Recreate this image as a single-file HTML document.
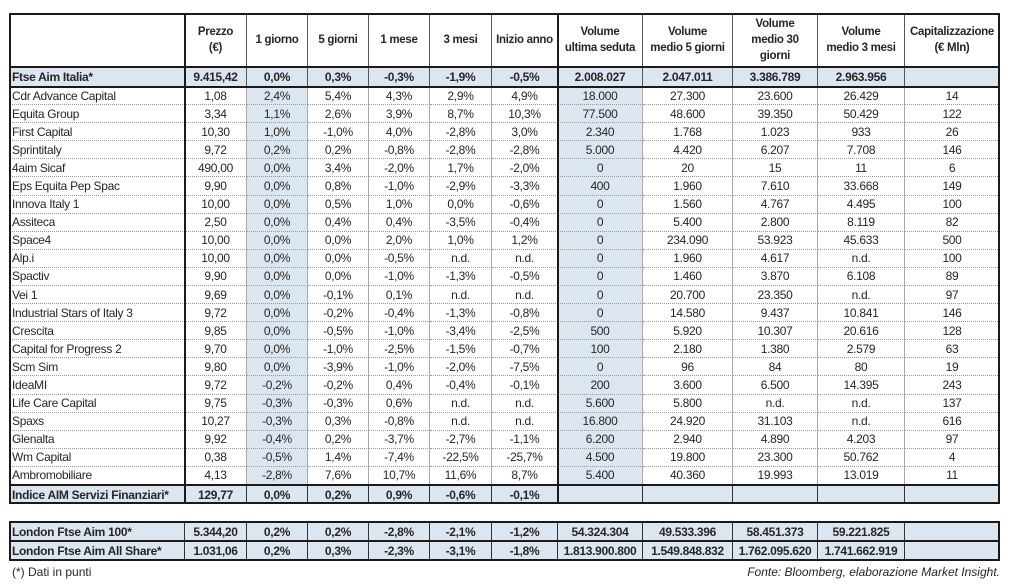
<!DOCTYPE html>
<html><head><meta charset="utf-8">
<style>
body{margin:0;width:1024px;height:587px;background:#fff;position:relative;overflow:hidden;font-family:"Liberation Sans",Arial,sans-serif;color:#262626}
.c{position:absolute;box-sizing:border-box;display:flex;align-items:center;justify-content:center;text-align:center;font-size:12px;white-space:nowrap;overflow:hidden;letter-spacing:-0.3px}
.n{justify-content:flex-start;padding-left:3px}
.h{font-weight:bold;font-size:11.5px;line-height:16px;white-space:normal}
.b{font-weight:bold}
.s{background:#dce6f1}
.frame{position:absolute;box-sizing:border-box;border:2px solid #1a1a1a;pointer-events:none}
.line{position:absolute;background:#1a1a1a}
.foot{position:absolute;font-size:12px;top:565px}
</style></head><body>
<div id="root"></div>
<div class="foot" style="left:12px">(*) Dati in punti</div>
<div class="foot" style="right:24px;font-style:italic">Fonte: Bloomberg, elaborazione Market Insight.</div>
<script>
const xs=[9,185,247,308,369,430,492,558,643,733,818,905,1000];
const headers=["","Prezzo<br>(€)","1 giorno","5 giorni","1 mese","3 mesi","Inizio anno","Volume<br>ultima seduta","Volume<br>medio 5 giorni","Volume<br>medio 30<br>giorni","Volume<br>medio 3 mesi","Capitalizzazione<br>(€ Mln)"];
const ftse=["Ftse Aim Italia*","9.415,42","0,0%","0,3%","-0,3%","-1,9%","-0,5%","2.008.027","2.047.011","3.386.789","2.963.956",""];
const rows=[
["Cdr Advance Capital","1,08","2,4%","5,4%","4,3%","2,9%","4,9%","18.000","27.300","23.600","26.429","14"],
["Equita Group","3,34","1,1%","2,6%","3,9%","8,7%","10,3%","77.500","48.600","39.350","50.429","122"],
["First Capital","10,30","1,0%","-1,0%","4,0%","-2,8%","3,0%","2.340","1.768","1.023","933","26"],
["Sprintitaly","9,72","0,2%","0,2%","-0,8%","-2,8%","-2,8%","5.000","4.420","6.207","7.708","146"],
["4aim Sicaf","490,00","0,0%","3,4%","-2,0%","1,7%","-2,0%","0","20","15","11","6"],
["Eps Equita Pep Spac","9,90","0,0%","0,8%","-1,0%","-2,9%","-3,3%","400","1.960","7.610","33.668","149"],
["Innova Italy 1","10,00","0,0%","0,5%","1,0%","0,0%","-0,6%","0","1.560","4.767","4.495","100"],
["Assiteca","2,50","0,0%","0,4%","0,4%","-3,5%","-0,4%","0","5.400","2.800","8.119","82"],
["Space4","10,00","0,0%","0,0%","2,0%","1,0%","1,2%","0","234.090","53.923","45.633","500"],
["Alp.i","10,00","0,0%","0,0%","-0,5%","n.d.","n.d.","0","1.960","4.617","n.d.","100"],
["Spactiv","9,90","0,0%","0,0%","-1,0%","-1,3%","-0,5%","0","1.460","3.870","6.108","89"],
["Vei 1","9,69","0,0%","-0,1%","0,1%","n.d.","n.d.","0","20.700","23.350","n.d.","97"],
["Industrial Stars of Italy 3","9,72","0,0%","-0,2%","-0,4%","-1,3%","-0,8%","0","14.580","9.437","10.841","146"],
["Crescita","9,85","0,0%","-0,5%","-1,0%","-3,4%","-2,5%","500","5.920","10.307","20.616","128"],
["Capital for Progress 2","9,70","0,0%","-1,0%","-2,5%","-1,5%","-0,7%","100","2.180","1.380","2.579","63"],
["Scm Sim","9,80","0,0%","-3,9%","-1,0%","-2,0%","-7,5%","0","96","84","80","19"],
["IdeaMI","9,72","-0,2%","-0,2%","0,4%","-0,4%","-0,1%","200","3.600","6.500","14.395","243"],
["Life Care Capital","9,75","-0,3%","-0,3%","0,6%","n.d.","n.d.","5.600","5.800","n.d.","n.d.","137"],
["Spaxs","10,27","-0,3%","0,3%","-0,8%","n.d.","n.d.","16.800","24.920","31.103","n.d.","616"],
["Glenalta","9,92","-0,4%","0,2%","-3,7%","-2,7%","-1,1%","6.200","2.940","4.890","4.203","97"],
["Wm Capital","0,38","-0,5%","1,4%","-7,4%","-22,5%","-25,7%","4.500","19.800","23.300","50.762","4"],
["Ambromobiliare","4,13","-2,8%","7,6%","10,7%","11,6%","8,7%","5.400","40.360","19.993","13.019","11"]];
const indice=["Indice AIM Servizi Finanziari*","129,77","0,0%","0,2%","0,9%","-0,6%","-0,1%","","","","",""];
const london=[
["London Ftse Aim 100*","5.344,20","0,2%","0,2%","-2,8%","-2,1%","-1,2%","54.324.304","49.533.396","58.451.373","59.221.825",""],
["London Ftse Aim All Share*","1.031,06","0,2%","0,3%","-2,3%","-3,1%","-1,8%","1.813.900.800","1.549.848.832","1.762.095.620","1.741.662.919",""]];
const root=document.getElementById('root');
function cell(txt,j,top,h,cls,style){
  const d=document.createElement('div');
  d.className='c '+(j===0?'n ':'')+cls;
  d.style.left=xs[j]+'px';d.style.top=top+'px';
  d.style.width=(xs[j+1]-xs[j])+'px';d.style.height=h+'px';
  d.style.cssText+=style;
  d.innerHTML=txt;
  
  
  root.appendChild(d);return d;
}
function frame(l,t,w,h,name){const f=document.createElement('div');f.className='frame';
  f.style.left=l+'px';f.style.top=t+'px';f.style.width=w+'px';f.style.height=h+'px';
  
  
  root.appendChild(f);}
function hline(y,name){const f=document.createElement('div');f.className='line';
  f.style.left=xs[0]+'px';f.style.top=(y-1)+'px';f.style.width=(xs[12]-xs[0])+'px';f.style.height='2px';
  
  
  root.appendChild(f);}
headers.forEach((t,j)=>cell(t,j,13,54,'h','border-right:1px solid #555;'));
ftse.forEach((t,j)=>cell(t,j,67,20,'b s','border-right:1px solid #555;'));
const rh=18.09;
rows.forEach((r,i)=>{const top=87+i*rh;
  r.forEach((t,j)=>cell(t,j,top,rh,(j===2||j===7)?'s':'',
   'border-right:1px solid #aaa;border-bottom:1px dotted #999;'));});
indice.forEach((t,j)=>cell(t,j,485,19,'b s','border-right:1px solid #333;'));
london.forEach((r,i)=>r.forEach((t,j)=>cell(t,j,522+i*19,19,'b s','border-right:1px solid #333;')));
frame(9,13,991,491,'main-table-border');
frame(9,521,991,40,'london-table-border');
hline(67,'header-divider');hline(87,'ftse-divider');hline(485,'indice-divider');hline(541,'london-divider');
const v=document.createElement('div');v.className='line';
v.style.left='557px';v.style.top='13px';v.style.width='2px';v.style.height='491px';


root.appendChild(v);
const v2=document.createElement('div');v2.className='line';
v2.style.left='184px';v2.style.top='13px';v2.style.width='2px';v2.style.height='491px';


root.appendChild(v2);
</script>
</body></html>
